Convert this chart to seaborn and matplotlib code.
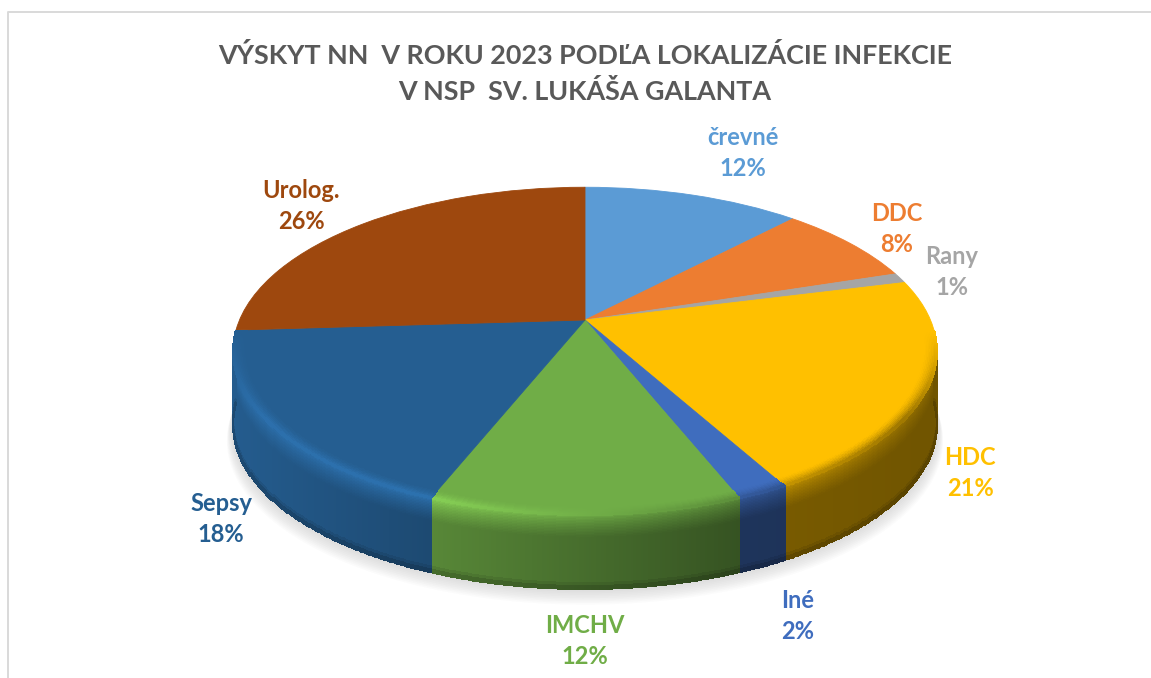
import numpy as np
import matplotlib
matplotlib.use('Agg')
import matplotlib.pyplot as plt
from matplotlib.transforms import Transform
import seaborn as sns

# data
categories = ['črevné', 'DDC', 'Rany', 'HDC', 'Iné', 'IMCHV', 'Sepsy', 'Urolog.']
values = [12, 8, 1, 21, 2, 12, 18, 26]
hex_colors = ['#5B9BD5', '#ED7D31', '#A5A5A5', '#FFC000', '#3F6DBE', '#70AD47', '#255E91', '#9E480E']
title_lines = ['VÝSKYT NN  V ROKU 2023 PODĽA LOKALIZÁCIE INFEKCIE', 'V NSP  SV. LUKÁŠA GALANTA']

# label centres in image pixels
label_x = [743, 897, 952, 970, 798, 585, 221, 301]
label_y = [153, 229, 272, 473, 616, 641, 519, 206]

W, H = 1151, 678
CX, CY = 585, 320      # apex of the pie in the image
PERSP = 0.19
SX, SY = 345.5, 158
DEPTH = 74


class Persp(Transform):
    # flat circle -> tilted disc with the centre pushed up
    input_dims = 2
    output_dims = 2
    is_affine = False

    def transform_non_affine(self, values):
        pts = np.asarray(values, dtype=float)
        w = 1 + PERSP * pts[:, 1]
        return np.column_stack([SX * pts[:, 0] / w, SY * pts[:, 1] / w])


sns.set_theme(style='white')
plt.rcParams['font.family'] = ['Lato', 'DejaVu Sans']
palette = sns.color_palette(hex_colors)

fig = plt.figure(figsize=(W / 100, H / 100), dpi=100)
ax = fig.add_axes([0, 0, 1, 1])
wedges, _ = ax.pie(values, colors=palette, startangle=90, counterclock=False)
ax.set_aspect('auto')
ax.set_xlim(-CX, W - CX)
ax.set_ylim(CY - H, CY)
ax.axis('off')

proj = Persp()
for w in wedges:
    w.set_transform(proj + ax.transData)
    w.set_edgecolor(w.get_facecolor())
    w.set_linewidth(0.6)
    w.set_zorder(3)


def ring_xy(theta, r=1.0, depth=0.0, grow=1.0):
    t = np.deg2rad(theta)
    xy = proj.transform_non_affine(np.column_stack([r * np.cos(t), r * np.sin(t)]))
    return xy[:, 0] * grow, xy[:, 1] - depth


# soft shadow under the disc
th_all = np.linspace(0, 360, 240)
for k in range(12):
    sx, sy = ring_xy(th_all, depth=DEPTH + 1.6 * k - 2, grow=1.0 + 0.0016 * k)
    ax.fill(sx, sy, color='#6f6f6f', alpha=0.022, lw=0, zorder=1)

ring_rows = np.linspace(0.965, 1.0, 9)
wall_rows = np.r_[np.arange(0, 24, 1.5), DEPTH - 6, DEPTH - 3, DEPTH]

for w, col in zip(wedges, palette):
    lo, hi = max(w.theta1, -176), min(w.theta2, -4)
    if hi <= lo:
        continue
    th = np.linspace(lo, hi, int(hi - lo) * 3 + 2)
    mid = (th[:-1] + th[1:]) / 2
    mx, _ = ring_xy(mid)
    base = np.array(col)
    side = np.interp(mx, [-352, 155, 352], [0.98, 0.48, 0.44])
    edge = np.interp(mx, [-352, -160, 50, 352], [1.2, 1.22, 0.95, 0.55])
    fade = np.clip(np.minimum(mid + 176, -4 - mid) / 30, 0, 1)

    # side wall
    X = np.array([ring_xy(th, depth=d)[0] for d in wall_rows])
    Y = np.array([ring_xy(th, depth=d)[1] for d in wall_rows])
    n_rows = len(wall_rows) - 1
    C = np.zeros((n_rows, len(mid), 3))
    for i in range(n_rows):
        b = min(wall_rows[i] / 22, 1.0) ** 0.7
        f = edge + (side - edge) * b
        if i == n_rows - 2:
            f = side * 0.92
        elif i == n_rows - 1:
            f = side * 0.8
        C[i] = np.clip(base[None, :] * f[:, None], 0, 1)
    ax.pcolormesh(X, Y, C, shading='flat', edgecolors='face', linewidth=0.2, zorder=2)

    # bevel on the rim of the top face
    X = np.array([ring_xy(th, r=r)[0] for r in ring_rows])
    Y = np.array([ring_xy(th, r=r)[1] for r in ring_rows])
    C = np.zeros((len(ring_rows) - 1, len(mid), 3))
    for i in range(len(ring_rows) - 1):
        a = ((i + 0.5) / (len(ring_rows) - 1)) ** 1.5 * fade
        f = 1 + (edge - 1) * a
        C[i] = np.clip(base[None, :] * f[:, None], 0, 1)
    ax.pcolormesh(X, Y, C, shading='flat', edgecolors='face', linewidth=0.3, zorder=4)

# chart frame, only the left and top edges are in the crop
ax.plot([8 - CX, 8 - CX, W - CX], [CY - H, CY - 12, CY - 12], color='#D9D9D9', lw=1.4, zorder=0)

ax.text(585 - CX, CY - 55, title_lines[0], ha='center', va='center', fontsize=19.4,
        fontweight='bold', color='#595959')
ax.text(585 - CX, CY - 92, title_lines[1], ha='center', va='center', fontsize=19.4,
        fontweight='bold', color='#595959')

for name, v, lx, ly, col in zip(categories, values, label_x, label_y, hex_colors):
    ax.text(lx - CX, CY - ly, f'{name}\n{v}%', ha='center', va='center', fontsize=17,
            fontweight='bold', color=col, linespacing=1.38, zorder=5)

fig.savefig('out.png', dpi=100, facecolor='white')
